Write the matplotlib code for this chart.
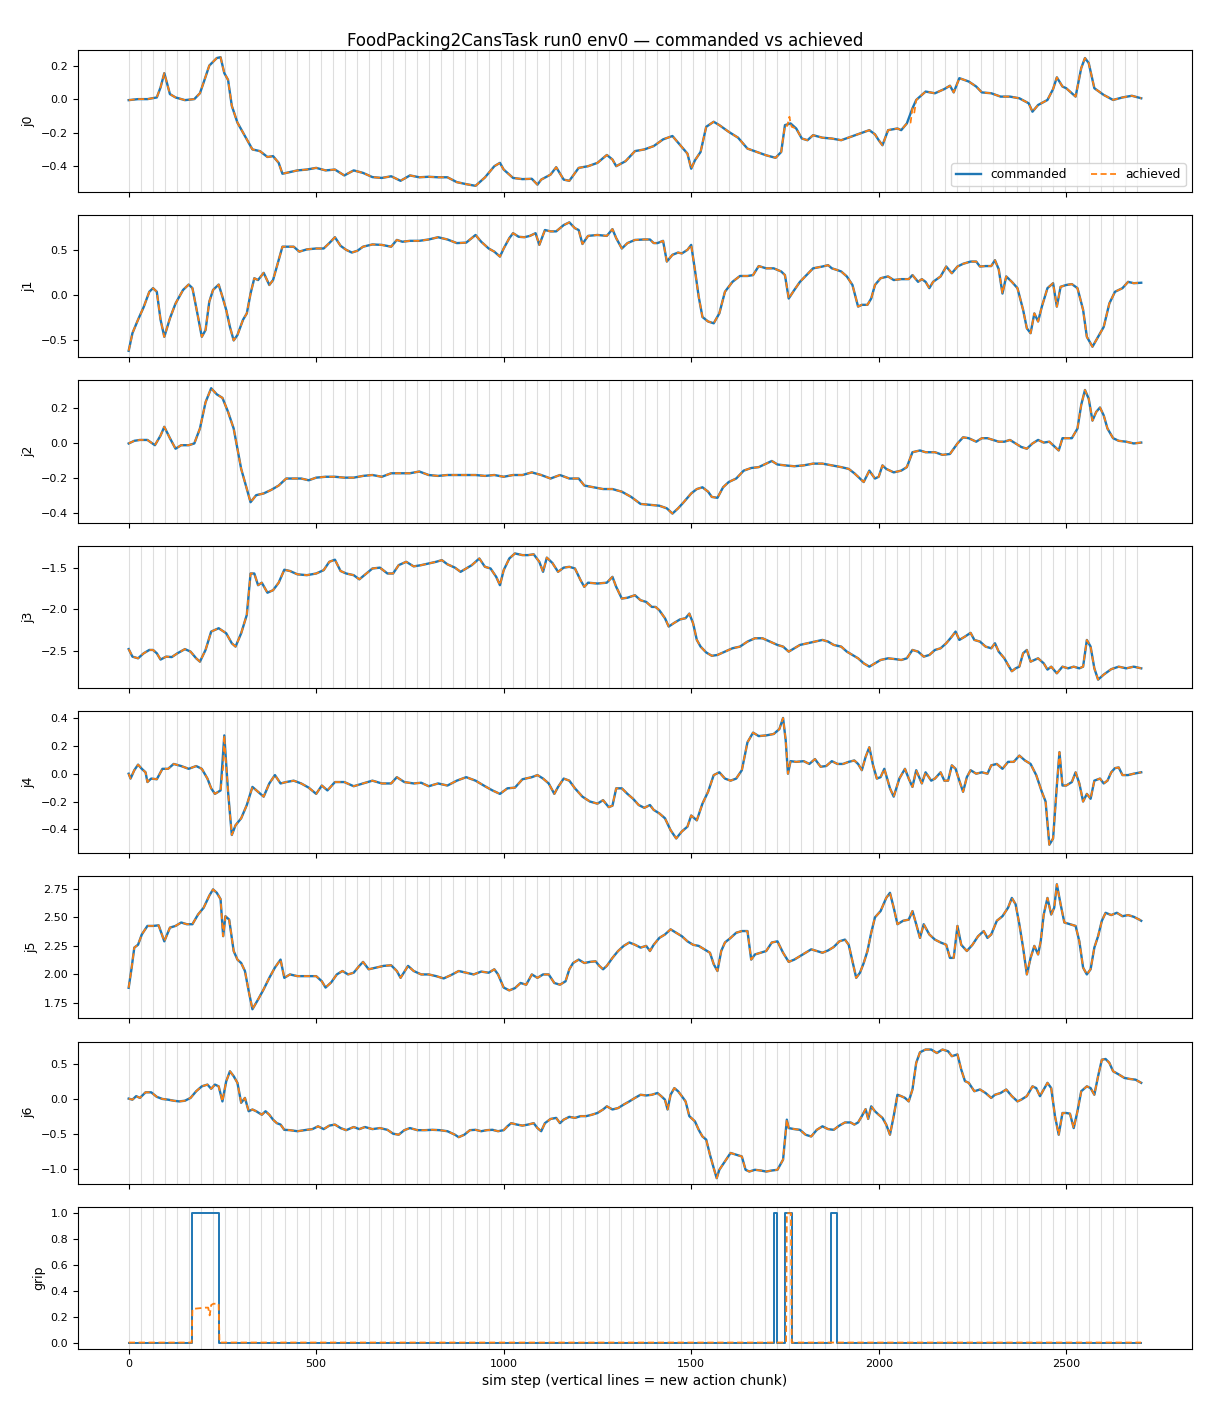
import matplotlib
matplotlib.use("Agg")
import matplotlib.pyplot as plt

# ---------------- data (sim step, commanded value) ----------------
j0_cmd = [(0,-0.006),(25,0.0),(50,0.0),(75,0.01),(85,0.07),(95,0.155),(110,0.03),(125,0.01),(150,-0.006),
 (175,0.0),(190,0.035),(200,0.1),(215,0.2),(235,0.245),(245,0.25),(255,0.155),(265,0.115),(275,-0.04),
 (290,-0.14),(310,-0.22),(330,-0.3),(350,-0.31),(370,-0.345),(385,-0.34),(400,-0.38),(410,-0.445),
 (430,-0.435),(450,-0.425),(475,-0.42),(500,-0.41),(525,-0.425),(550,-0.42),(575,-0.455),(600,-0.425),
 (625,-0.44),(650,-0.465),(675,-0.47),(700,-0.46),(725,-0.487),(750,-0.455),(775,-0.466),(800,-0.463),
 (825,-0.466),(850,-0.466),(875,-0.495),(900,-0.507),(925,-0.517),(950,-0.467),(975,-0.4),(990,-0.38),
 (1000,-0.42),(1025,-0.47),(1050,-0.477),(1075,-0.475),(1090,-0.51),(1100,-0.48),(1125,-0.45),(1140,-0.406),
 (1160,-0.48),(1175,-0.487),(1200,-0.41),(1225,-0.4),(1250,-0.38),(1275,-0.333),(1290,-0.36),(1300,-0.4),
 (1325,-0.37),(1350,-0.31),(1375,-0.3),(1400,-0.28),(1425,-0.24),(1450,-0.22),(1475,-0.285),(1490,-0.325),
 (1500,-0.415),(1510,-0.365),(1525,-0.315),(1540,-0.165),(1560,-0.135),(1575,-0.155),(1600,-0.195),
 (1625,-0.23),(1650,-0.295),(1675,-0.315),(1700,-0.335),(1725,-0.35),(1740,-0.315),(1750,-0.155),
 (1765,-0.145),(1780,-0.175),(1795,-0.235),(1810,-0.245),(1825,-0.215),(1850,-0.23),(1875,-0.235),
 (1900,-0.245),(1925,-0.225),(1950,-0.205),(1975,-0.185),(1990,-0.21),(2000,-0.245),(2010,-0.275),
 (2025,-0.185),(2050,-0.175),(2060,-0.185),(2075,-0.145),(2090,-0.055),(2100,-0.005),(2125,0.045),
 (2150,0.035),(2175,0.06),(2190,0.08),(2200,0.04),(2215,0.125),(2240,0.105),(2260,0.075),(2275,0.04),
 (2300,0.035),(2325,0.015),(2350,0.015),(2375,0.005),(2400,-0.025),(2410,-0.075),(2425,-0.035),
 (2450,-0.005),(2465,0.06),(2475,0.13),(2490,0.075),(2500,0.065),(2525,0.015),(2540,0.185),(2550,0.245),
 (2560,0.215),(2575,0.065),(2600,0.025),(2625,-0.005),(2650,0.01),(2675,0.02),(2700,0.005)]

j1_cmd = [(0,-0.615),(10,-0.42),(25,-0.27),(40,-0.13),(55,0.04),(65,0.08),(75,0.04),(85,-0.27),(95,-0.46),
 (110,-0.255),(125,-0.09),(145,0.06),(160,0.12),(170,0.08),(185,-0.24),(195,-0.46),(205,-0.385),(215,-0.07),
 (225,0.06),(240,0.12),(250,-0.015),(260,-0.16),(270,-0.35),(280,-0.5),(290,-0.44),(305,-0.27),(315,-0.2),
 (325,0.02),(335,0.19),(345,0.17),(360,0.25),(375,0.115),(385,0.17),(400,0.39),(410,0.54),(425,0.54),
 (440,0.54),(455,0.485),(475,0.51),(500,0.52),(520,0.52),(535,0.58),(550,0.645),(565,0.55),(580,0.505),
 (595,0.475),(610,0.495),(625,0.54),(650,0.565),(675,0.56),(700,0.54),(715,0.615),(730,0.595),(750,0.605),
 (775,0.605),(800,0.62),(825,0.645),(850,0.62),(875,0.58),(900,0.585),(925,0.67),(940,0.595),(960,0.52),
 (975,0.485),(990,0.43),(1000,0.52),(1015,0.635),(1025,0.69),(1040,0.65),(1055,0.645),(1070,0.66),
 (1085,0.69),(1095,0.56),(1110,0.725),(1125,0.71),(1140,0.71),(1160,0.78),(1175,0.81),(1190,0.745),
 (1200,0.725),(1210,0.57),(1225,0.66),(1250,0.67),(1275,0.66),(1290,0.735),(1300,0.635),(1315,0.52),
 (1330,0.58),(1350,0.615),(1375,0.62),(1390,0.62),(1400,0.58),(1410,0.58),(1425,0.605),(1435,0.375),
 (1450,0.45),(1465,0.475),(1475,0.465),(1490,0.505),(1500,0.56),(1510,0.28),(1520,-0.015),(1530,-0.24),
 (1545,-0.29),(1560,-0.31),(1575,-0.2),(1590,0.04),(1610,0.15),(1630,0.215),(1650,0.215),(1665,0.225),
 (1680,0.325),(1700,0.3),(1720,0.3),(1740,0.265),(1750,0.225),(1760,-0.035),(1775,0.06),(1790,0.15),
 (1805,0.215),(1825,0.3),(1850,0.32),(1865,0.335),(1875,0.3),(1890,0.28),(1900,0.265),(1915,0.21),
 (1930,0.115),(1945,-0.125),(1955,-0.105),(1970,-0.105),(1980,-0.035),(1990,0.115),(2005,0.19),(2025,0.21),
 (2040,0.17),(2060,0.18),(2080,0.18),(2090,0.225),(2105,0.15),(2115,0.18),(2125,0.15),(2135,0.08),
 (2145,0.15),(2165,0.21),(2180,0.32),(2195,0.245),(2210,0.32),(2225,0.35),(2245,0.375),(2260,0.375),
 (2270,0.32),(2285,0.325),(2300,0.325),(2310,0.39),(2320,0.29),(2330,0.02),(2340,0.21),(2355,0.15),
 (2370,0.08),(2385,-0.16),(2395,-0.365),(2405,-0.42),(2415,-0.2),(2425,-0.29),(2435,-0.125),(2450,0.08),
 (2465,0.135),(2475,-0.125),(2485,0.095),(2500,0.115),(2515,0.125),(2530,0.08),(2545,-0.16),(2555,-0.46),
 (2570,-0.57),(2585,-0.46),(2600,-0.35),(2615,-0.09),(2630,0.04),(2650,0.08),(2665,0.15),(2680,0.135),
 (2700,0.14)]

j2_cmd = [(0,-0.005),(15,0.01),(30,0.015),(50,0.015),(70,-0.015),(85,0.04),(95,0.09),(110,0.025),(125,-0.035),
 (140,-0.015),(160,-0.015),(175,-0.005),(190,0.08),(205,0.23),(220,0.31),(235,0.275),(250,0.255),(265,0.175),
 (280,0.08),(290,-0.035),(300,-0.15),(315,-0.265),(325,-0.34),(340,-0.3),(360,-0.29),(380,-0.27),(400,-0.245),
 (420,-0.205),(440,-0.205),(460,-0.205),(480,-0.215),(500,-0.2),(525,-0.195),(550,-0.195),(575,-0.2),
 (600,-0.2),(625,-0.19),(650,-0.185),(675,-0.195),(700,-0.175),(725,-0.175),(750,-0.175),(775,-0.165),
 (800,-0.185),(825,-0.19),(850,-0.185),(875,-0.185),(900,-0.185),(925,-0.185),(950,-0.19),(975,-0.185),
 (1000,-0.195),(1025,-0.185),(1050,-0.185),(1075,-0.17),(1100,-0.185),(1125,-0.205),(1150,-0.185),
 (1175,-0.205),(1200,-0.205),(1215,-0.245),(1240,-0.255),(1265,-0.265),(1290,-0.265),(1315,-0.28),
 (1340,-0.31),(1365,-0.35),(1390,-0.355),(1415,-0.36),(1435,-0.375),(1450,-0.405),(1465,-0.375),
 (1480,-0.34),(1500,-0.29),(1515,-0.265),(1530,-0.255),(1545,-0.28),(1555,-0.31),(1570,-0.315),
 (1585,-0.255),(1600,-0.225),(1620,-0.205),(1640,-0.16),(1660,-0.145),(1680,-0.14),(1700,-0.12),
 (1715,-0.105),(1730,-0.125),(1750,-0.13),(1775,-0.135),(1800,-0.13),(1825,-0.12),(1850,-0.12),
 (1875,-0.13),(1900,-0.14),(1920,-0.15),(1935,-0.175),(1950,-0.205),(1960,-0.225),(1975,-0.16),
 (1990,-0.205),(2000,-0.195),(2010,-0.13),(2020,-0.15),(2040,-0.17),(2060,-0.16),(2075,-0.14),
 (2090,-0.055),(2110,-0.045),(2125,-0.055),(2150,-0.055),(2170,-0.07),(2190,-0.065),(2210,-0.005),
 (2225,0.03),(2240,0.025),(2260,0.005),(2275,0.025),(2290,0.025),(2305,0.015),(2320,0.005),(2335,0.005),
 (2350,0.015),(2365,-0.005),(2380,-0.025),(2395,-0.035),(2410,-0.005),(2425,0.015),(2440,0.0),
 (2455,0.005),(2470,-0.025),(2480,-0.045),(2490,0.025),(2500,0.025),(2515,0.025),(2530,0.08),(2540,0.215),
 (2550,0.3),(2560,0.25),(2570,0.125),(2580,0.175),(2590,0.2),(2600,0.155),(2610,0.08),(2625,0.025),
 (2640,0.01),(2660,0.005),(2680,-0.005),(2700,0.0)]

j3_cmd = [(0,-2.475),(10,-2.565),(25,-2.585),(40,-2.525),(55,-2.485),(65,-2.485),(75,-2.525),(85,-2.6),
 (100,-2.565),(115,-2.57),(130,-2.525),(150,-2.475),(165,-2.505),(180,-2.585),(190,-2.625),(205,-2.485),
 (220,-2.265),(240,-2.225),(260,-2.285),(275,-2.405),(285,-2.445),(300,-2.285),(315,-2.065),(325,-1.57),
 (335,-1.57),(345,-1.71),(355,-1.68),(370,-1.8),(385,-1.77),(400,-1.68),(415,-1.525),(430,-1.54),
 (450,-1.58),(475,-1.59),(500,-1.57),(520,-1.53),(535,-1.43),(550,-1.405),(565,-1.54),(580,-1.57),
 (600,-1.59),(615,-1.64),(635,-1.565),(650,-1.51),(670,-1.5),(690,-1.57),(705,-1.57),(720,-1.47),
 (740,-1.43),(760,-1.485),(780,-1.47),(800,-1.45),(820,-1.43),(835,-1.41),(850,-1.46),(870,-1.5),
 (885,-1.55),(900,-1.51),(915,-1.47),(935,-1.39),(950,-1.49),(965,-1.51),(980,-1.61),(990,-1.71),
 (1000,-1.53),(1015,-1.39),(1030,-1.33),(1050,-1.35),(1065,-1.35),(1080,-1.34),(1095,-1.43),(1105,-1.55),
 (1115,-1.38),(1130,-1.445),(1145,-1.55),(1160,-1.5),(1175,-1.49),(1190,-1.51),(1205,-1.65),(1215,-1.73),
 (1225,-1.68),(1250,-1.69),(1275,-1.68),(1290,-1.61),(1300,-1.73),(1315,-1.87),(1330,-1.86),(1350,-1.83),
 (1365,-1.89),(1380,-1.91),(1395,-1.97),(1405,-1.97),(1415,-2.01),(1430,-2.105),(1440,-2.205),
 (1455,-2.16),(1470,-2.12),(1485,-2.105),(1495,-2.05),(1505,-2.165),(1515,-2.365),(1525,-2.445),
 (1540,-2.515),(1555,-2.555),(1570,-2.545),(1590,-2.505),(1610,-2.465),(1630,-2.445),(1650,-2.385),
 (1670,-2.345),(1690,-2.345),(1710,-2.385),(1730,-2.425),(1745,-2.445),(1760,-2.505),(1775,-2.465),
 (1790,-2.425),(1810,-2.405),(1830,-2.385),(1850,-2.365),(1865,-2.385),(1880,-2.425),(1900,-2.445),
 (1915,-2.505),(1930,-2.545),(1945,-2.585),(1960,-2.645),(1975,-2.685),(1990,-2.645),(2005,-2.605),
 (2025,-2.585),(2045,-2.595),(2060,-2.605),(2075,-2.585),(2090,-2.485),(2105,-2.505),(2120,-2.565),
 (2135,-2.545),(2150,-2.485),(2165,-2.465),(2180,-2.405),(2195,-2.325),(2205,-2.265),(2215,-2.365),
 (2230,-2.325),(2245,-2.28),(2255,-2.365),(2270,-2.385),(2285,-2.445),(2300,-2.465),(2310,-2.405),
 (2320,-2.505),(2335,-2.585),(2345,-2.665),(2355,-2.74),(2365,-2.705),(2375,-2.685),(2385,-2.525),
 (2395,-2.485),(2405,-2.625),(2415,-2.605),(2425,-2.585),(2440,-2.645),(2450,-2.72),(2460,-2.685),
 (2475,-2.765),(2490,-2.685),(2505,-2.705),(2520,-2.685),(2535,-2.705),(2545,-2.685),(2555,-2.365),
 (2565,-2.445),(2575,-2.705),(2585,-2.84),(2600,-2.78),(2620,-2.715),(2640,-2.685),(2660,-2.705),
 (2680,-2.685),(2700,-2.705)]

j4_cmd = [(0,0.0),(5,-0.035),(15,0.025),(25,0.065),(35,0.035),(45,0.01),(50,-0.06),(60,-0.035),(75,-0.04),
 (90,0.035),(105,0.035),(120,0.07),(140,0.055),(160,0.035),(180,0.055),(195,0.035),(210,-0.035),
 (220,-0.105),(230,-0.145),(245,-0.12),(255,0.275),(265,-0.13),(275,-0.44),(285,-0.37),(300,-0.32),
 (315,-0.225),(330,-0.095),(345,-0.13),(360,-0.165),(375,-0.07),(390,-0.01),(405,-0.07),(420,-0.06),
 (440,-0.05),(460,-0.07),(480,-0.1),(500,-0.145),(515,-0.085),(530,-0.12),(550,-0.06),(575,-0.06),
 (600,-0.09),(625,-0.07),(650,-0.05),(675,-0.07),(700,-0.07),(715,-0.025),(735,-0.06),(760,-0.07),
 (780,-0.065),(800,-0.09),(825,-0.07),(850,-0.085),(875,-0.05),(900,-0.025),(925,-0.05),(950,-0.09),
 (970,-0.12),(990,-0.145),(1010,-0.105),(1030,-0.1),(1050,-0.04),(1075,-0.025),(1090,-0.01),(1105,-0.035),
 (1120,-0.07),(1135,-0.145),(1145,-0.095),(1160,-0.035),(1175,-0.05),(1190,-0.105),(1210,-0.165),
 (1230,-0.2),(1250,-0.215),(1265,-0.19),(1280,-0.24),(1290,-0.23),(1300,-0.105),(1315,-0.105),
 (1330,-0.145),(1345,-0.18),(1360,-0.225),(1375,-0.245),(1390,-0.225),(1400,-0.26),(1415,-0.285),
 (1430,-0.32),(1445,-0.405),(1460,-0.465),(1475,-0.415),(1490,-0.38),(1500,-0.3),(1515,-0.335),
 (1530,-0.215),(1545,-0.13),(1560,-0.01),(1575,0.01),(1590,-0.035),(1605,-0.05),(1620,-0.035),
 (1635,0.025),(1650,0.225),(1665,0.295),(1680,0.27),(1700,0.275),(1720,0.285),(1735,0.32),(1745,0.4),
 (1752,0.24),(1758,0.0),(1765,0.09),(1780,0.085),(1800,0.09),(1815,0.07),(1830,0.105),(1845,0.05),
 (1860,0.055),(1875,0.09),(1890,0.07),(1905,0.07),(1920,0.085),(1935,0.095),(1945,0.07),(1955,0.025),
 (1965,0.12),(1975,0.19),(1985,0.06),(1995,-0.035),(2005,-0.025),(2015,0.035),(2030,-0.105),(2040,-0.165),
 (2055,-0.035),(2070,0.035),(2080,-0.035),(2090,-0.095),(2100,0.025),(2115,-0.07),(2125,0.01),
 (2140,-0.05),(2150,-0.035),(2165,0.01),(2175,-0.05),(2185,-0.05),(2195,0.06),(2205,0.035),(2215,-0.05),
 (2225,-0.13),(2235,-0.025),(2245,0.025),(2260,0.0),(2275,0.01),(2290,0.0),(2300,0.06),(2315,0.07),
 (2330,0.035),(2345,0.085),(2360,0.085),(2375,0.13),(2390,0.095),(2405,0.07),(2420,-0.01),(2435,-0.13),
 (2445,-0.2),(2455,-0.51),(2465,-0.465),(2475,-0.085),(2482,0.155),(2490,-0.085),(2500,-0.085),
 (2515,-0.06),(2525,0.01),(2535,-0.07),(2545,-0.2),(2555,-0.145),(2565,-0.18),(2575,-0.05),(2590,-0.035),
 (2600,-0.07),(2610,-0.05),(2620,0.01),(2630,0.04),(2640,0.045),(2650,-0.01),(2665,-0.01),(2680,0.0),
 (2700,0.01)]

j5_cmd = [(0,1.883),(8,2.06),(15,2.235),(25,2.26),(35,2.35),(50,2.425),(65,2.425),(80,2.43),(90,2.335),
 (95,2.29),(110,2.41),(125,2.425),(140,2.455),(155,2.44),(170,2.44),(185,2.525),(200,2.585),(215,2.69),
 (225,2.745),(235,2.715),(245,2.66),(252,2.335),(258,2.51),(268,2.48),(280,2.205),(290,2.13),(300,2.1),
 (310,2.03),(320,1.855),(330,1.695),(345,1.78),(360,1.87),(375,1.97),(390,2.06),(405,2.13),(415,1.97),
 (430,2.0),(450,1.985),(475,1.985),(500,1.985),(515,1.94),(525,1.885),(540,1.93),(555,2.0),(570,2.03),
 (585,2.0),(600,2.015),(615,2.075),(625,2.11),(640,2.045),(660,2.06),(680,2.075),(700,2.08),(715,2.03),
 (725,1.97),(745,2.075),(760,2.03),(780,2.0),(800,2.0),(820,1.985),(840,1.965),(860,1.995),(880,2.03),
 (900,2.015),(920,2.0),(940,2.025),(960,2.015),(975,2.045),(985,2.0),(1000,1.885),(1015,1.86),(1030,1.88),
 (1045,1.925),(1060,1.91),(1075,2.0),(1090,1.97),(1105,2.0),(1120,2.0),(1135,1.925),(1150,1.91),
 (1165,1.94),(1175,2.045),(1185,2.1),(1200,2.13),(1215,2.1),(1230,2.11),(1245,2.115),(1255,2.075),
 (1265,2.045),(1275,2.075),(1290,2.145),(1305,2.205),(1320,2.25),(1335,2.28),(1350,2.26),(1365,2.235),
 (1380,2.25),(1390,2.205),(1400,2.26),(1415,2.32),(1430,2.35),(1445,2.395),(1460,2.365),(1475,2.335),
 (1490,2.29),(1505,2.26),(1520,2.25),(1535,2.22),(1550,2.19),(1560,2.09),(1570,2.03),(1580,2.205),
 (1590,2.28),(1605,2.32),(1620,2.365),(1635,2.38),(1650,2.38),(1660,2.13),(1670,2.175),(1685,2.19),
 (1700,2.205),(1715,2.28),(1730,2.29),(1745,2.19),(1760,2.11),(1775,2.13),(1790,2.16),(1805,2.19),
 (1820,2.22),(1835,2.205),(1850,2.19),(1865,2.21),(1880,2.24),(1895,2.29),(1910,2.305),(1920,2.26),
 (1930,2.115),(1940,1.97),(1950,2.015),(1960,2.1),(1970,2.205),(1980,2.365),(1990,2.5),(2005,2.555),
 (2020,2.67),(2030,2.715),(2040,2.585),(2050,2.44),(2065,2.47),(2080,2.48),(2090,2.555),(2100,2.44),
 (2110,2.32),(2120,2.44),(2135,2.35),(2150,2.305),(2165,2.28),(2180,2.26),(2190,2.145),(2200,2.145),
 (2210,2.425),(2220,2.26),(2235,2.205),(2250,2.26),(2265,2.335),(2280,2.38),(2290,2.32),(2300,2.35),
 (2315,2.47),(2330,2.51),(2345,2.585),(2355,2.67),(2365,2.615),(2375,2.44),(2385,2.235),(2395,2.0),
 (2405,2.145),(2415,2.25),(2425,2.175),(2432,2.29),(2440,2.525),(2450,2.67),(2460,2.525),(2468,2.585),
 (2475,2.79),(2485,2.615),(2495,2.455),(2510,2.44),(2525,2.425),(2535,2.29),(2545,2.06),(2555,2.0),
 (2565,2.045),(2575,2.235),(2585,2.335),(2595,2.47),(2605,2.54),(2620,2.52),(2635,2.54),(2650,2.51),
 (2665,2.52),(2680,2.505),(2695,2.48),(2700,2.47)]

j6_cmd = [(0,0.0),(10,-0.015),(20,0.035),(30,0.01),(45,0.09),(60,0.09),(75,0.025),(90,-0.005),(105,-0.015),
 (120,-0.03),(135,-0.04),(150,-0.03),(165,0.01),(180,0.105),(195,0.175),(210,0.2),(220,0.14),(230,0.2),
 (240,0.175),(250,-0.04),(260,0.245),(270,0.39),(280,0.32),(290,0.225),(300,-0.06),(310,0.01),(320,-0.18),
 (330,-0.155),(340,-0.18),(355,-0.23),(365,-0.18),(375,-0.23),(385,-0.3),(395,-0.35),(405,-0.37),
 (415,-0.445),(430,-0.45),(450,-0.465),(475,-0.445),(490,-0.435),(505,-0.395),(520,-0.435),(535,-0.385),
 (550,-0.37),(565,-0.42),(580,-0.45),(600,-0.405),(615,-0.435),(630,-0.405),(650,-0.435),(670,-0.42),
 (690,-0.445),(705,-0.5),(720,-0.515),(735,-0.45),(750,-0.42),(770,-0.45),(790,-0.45),(810,-0.445),
 (830,-0.45),(850,-0.465),(870,-0.515),(880,-0.55),(895,-0.515),(910,-0.45),(925,-0.445),(940,-0.465),
 (955,-0.45),(970,-0.445),(985,-0.465),(1000,-0.45),(1010,-0.395),(1020,-0.35),(1035,-0.37),(1050,-0.385),
 (1065,-0.37),(1080,-0.35),(1090,-0.42),(1100,-0.465),(1110,-0.35),(1125,-0.29),(1140,-0.275),(1150,-0.35),
 (1160,-0.3),(1175,-0.26),(1190,-0.275),(1205,-0.25),(1220,-0.25),(1235,-0.23),(1250,-0.205),(1265,-0.155),
 (1275,-0.11),(1290,-0.155),(1305,-0.135),(1320,-0.085),(1335,-0.04),(1350,0.01),(1365,0.055),(1380,0.045),
 (1395,0.055),(1410,0.08),(1420,0.035),(1430,-0.015),(1437,-0.155),(1445,0.055),(1455,0.15),(1465,0.105),
 (1475,0.035),(1485,-0.04),(1495,-0.25),(1510,-0.325),(1520,-0.445),(1530,-0.54),(1540,-0.585),
 (1550,-0.8),(1560,-0.99),(1568,-1.135),(1575,-1.015),(1590,-0.895),(1605,-0.775),(1620,-0.8),
 (1635,-0.825),(1645,-1.015),(1655,-1.04),(1670,-1.015),(1685,-1.025),(1700,-1.04),(1715,-1.025),
 (1730,-1.015),(1745,-0.87),(1755,-0.3),(1760,-0.42),(1775,-0.435),(1790,-0.445),(1805,-0.515),
 (1820,-0.54),(1835,-0.445),(1850,-0.395),(1865,-0.435),(1880,-0.445),(1895,-0.385),(1910,-0.34),
 (1925,-0.34),(1935,-0.37),(1945,-0.34),(1955,-0.25),(1965,-0.15),(1972,-0.29),(1980,-0.11),(1990,-0.18),
 (2000,-0.23),(2010,-0.275),(2020,-0.37),(2030,-0.515),(2040,-0.25),(2050,0.055),(2060,0.035),(2070,0.01),
 (2080,-0.04),(2090,0.13),(2100,0.51),(2110,0.66),(2125,0.7),(2140,0.7),(2155,0.65),(2170,0.7),
 (2185,0.675),(2195,0.605),(2210,0.63),(2220,0.415),(2230,0.25),(2240,0.225),(2255,0.105),(2270,0.13),
 (2285,0.08),(2300,0.01),(2310,0.055),(2325,0.08),(2340,0.13),(2355,0.035),(2370,-0.04),(2380,-0.015),
 (2395,0.035),(2410,0.175),(2420,0.15),(2430,0.035),(2440,0.13),(2450,0.225),(2460,0.15),(2470,-0.25),
 (2480,-0.515),(2490,-0.205),(2500,-0.205),(2510,-0.215),(2520,-0.42),(2530,-0.18),(2540,0.105),
 (2555,0.175),(2565,0.15),(2575,0.055),(2585,0.32),(2595,0.555),(2605,0.565),(2615,0.51),(2625,0.39),
 (2640,0.345),(2655,0.295),(2670,0.28),(2685,0.27),(2700,0.225)]

# places where the achieved trace visibly departs from the commanded one
j0_ach_diff = [(1756,-0.16),(1762,-0.105),(1768,-0.165),(2085,-0.14),(2095,-0.08)]
j4_ach_diff = [(252,0.05),(258,0.13),(262,0.0)]

grip_cmd_steps = [0, 168, 240, 1722, 1729, 1750, 1768, 1873, 1888, 2700]
grip_cmd_vals  = [0, 1, 0, 1, 0, 1, 0, 1, 0, 0]
grip_ach_steps = [0, 168, 170, 205, 212, 216, 220, 226, 240, 242, 1753, 1755, 1766, 1768, 2700]
grip_ach_vals  = [0, 0, 0.26, 0.27, 0.27, 0.21, 0.29, 0.30, 0.30, 0, 0, 1, 1, 0, 0]

chunk_len = 32
last_step = 2700
joint_labels = ["j0", "j1", "j2", "j3", "j4", "j5", "j6"]
joint_cmd = [j0_cmd, j1_cmd, j2_cmd, j3_cmd, j4_cmd, j5_cmd, j6_cmd]
joint_ach_diff = [j0_ach_diff, [], [], [], j4_ach_diff, [], []]
joint_ylim = [(-0.555, 0.293), (-0.689, 0.889), (-0.457, 0.354), (-2.94, -1.238),
              (-0.571, 0.45), (1.614, 2.86), (-1.214, 0.814)]

# ---------------- figure ----------------
fig, axes = plt.subplots(8, 1, figsize=(12.1, 14.08), dpi=100, sharex=True)
fig.subplots_adjust(left=0.0645, right=0.985, top=0.9645, bottom=0.0419, hspace=0.162)

for ax in axes:
    for x in range(0, last_step + 1, chunk_len):
        ax.axvline(x, color="0.87", lw=0.8, zorder=0)
    ax.tick_params(labelsize=8)

for i, ax in enumerate(axes[:7]):
    pts = joint_cmd[i]
    xs = [p[0] for p in pts]
    ys = [p[1] for p in pts]
    d = dict(pts)
    d.update(dict(joint_ach_diff[i]))
    ach = sorted(d.items())
    ax.plot(xs, ys, color="C0", lw=1.7, label="commanded")
    ax.plot([a[0] for a in ach], [a[1] for a in ach], color="C1", lw=1.25,
            ls=(0, (3.5, 2.0)), label="achieved")
    ax.set_ylim(*joint_ylim[i])
    ax.set_ylabel(joint_labels[i], fontsize=9)

axg = axes[7]
axg.plot(grip_cmd_steps, grip_cmd_vals, color="C0", lw=1.4, drawstyle="steps-post", label="commanded")
axg.plot(grip_ach_steps, grip_ach_vals, color="C1", lw=1.3, ls=(0, (3.5, 2.0)), label="achieved")
axg.set_ylabel("grip", fontsize=9)
axg.set_xlabel("sim step (vertical lines = new action chunk)", fontsize=10)

axes[0].legend(loc="lower right", ncol=2, fontsize=8.8)
fig.suptitle("FoodPacking2CansTask run0 env0 \u2014 commanded vs achieved", fontsize=12, y=0.977)

fig.savefig("out.png", dpi=100)
